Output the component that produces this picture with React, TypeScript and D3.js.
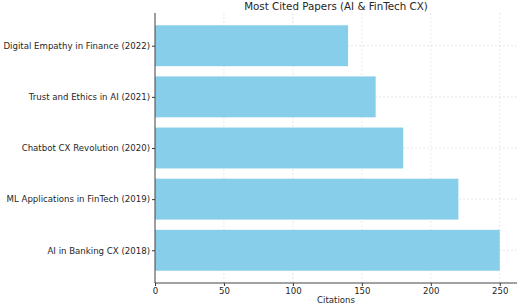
import React, { useRef, useEffect } from 'react';
import * as d3 from 'd3';

const papers = [
  'AI in Banking CX (2018)',
  'ML Applications in FinTech (2019)',
  'Chatbot CX Revolution (2020)',
  'Trust and Ethics in AI (2021)',
  'Digital Empathy in Finance (2022)',
];
const citations = [250, 220, 180, 160, 140];
const xTicks = [0, 50, 100, 150, 200, 250];

const W = 520;
const H = 305;
const font = 'DejaVu Sans, sans-serif';

const App = () => {
  const svgRef = useRef<SVGSVGElement>(null);

  useEffect(() => {
    const svg = d3.select(svgRef.current);
    svg.selectAll('*').remove();

    const left = 155, right = 517, top = 13, bottom = 283;
    const x = d3.scaleLinear().domain([0, 262.5]).range([left, right]);
    const y = d3.scaleLinear().domain([-0.64, 4.64]).range([bottom, top]);
    const barH = y(0) - y(0.8);

    // grid
    const grid = svg.append('g');
    grid.selectAll('.vg')
      .data(xTicks)
      .join('line')
      .attr('x1', d => x(d)).attr('x2', d => x(d))
      .attr('y1', top).attr('y2', bottom)
      .attr('stroke', '#dcdcdc').attr('stroke-width', 0.7)
      .attr('stroke-dasharray', '2,2');
    grid.selectAll('.hg')
      .data(papers)
      .join('line')
      .attr('x1', left).attr('x2', right)
      .attr('y1', (d, i) => y(i)).attr('y2', (d, i) => y(i))
      .attr('stroke', '#dcdcdc').attr('stroke-width', 0.7)
      .attr('stroke-dasharray', '2,2');

    // bars
    svg.append('g')
      .selectAll('rect')
      .data(citations)
      .join('rect')
      .attr('x', x(0))
      .attr('y', (d, i) => y(i + 0.4))
      .attr('width', d => x(d) - x(0))
      .attr('height', barH)
      .attr('fill', '#87ceeb');

    // axes
    const xAxis = d3.axisBottom(x).tickValues(xTicks).tickSize(3).tickPadding(2);
    const gx = svg.append('g')
      .attr('transform', `translate(0,${bottom})`)
      .call(xAxis);
    gx.select('.domain').remove();
    gx.selectAll('text').attr('font-family', font).attr('font-size', 8.6).attr('fill', '#262626');
    gx.selectAll('line').attr('stroke', '#333');

    const yAxis = d3.axisLeft(y).tickValues(d3.range(papers.length))
      .tickFormat((d: any) => papers[d]).tickSize(3).tickPadding(2);
    const gy = svg.append('g')
      .attr('transform', `translate(${left},0)`)
      .call(yAxis);
    gy.select('.domain').remove();
    gy.selectAll('text').attr('font-family', font).attr('font-size', 8.6).attr('fill', '#262626');
    gy.selectAll('line').attr('stroke', '#333');

    // spines
    svg.append('line')
      .attr('x1', left).attr('x2', left).attr('y1', top).attr('y2', bottom)
      .attr('stroke', '#444').attr('stroke-width', 1);
    svg.append('line')
      .attr('x1', left).attr('x2', right).attr('y1', bottom).attr('y2', bottom)
      .attr('stroke', '#444').attr('stroke-width', 1);

    svg.append('text')
      .attr('x', (left + right) / 2).attr('y', 303)
      .attr('text-anchor', 'middle')
      .attr('font-family', font).attr('font-size', 8.6).attr('fill', '#262626')
      .text('Citations');

    svg.append('text')
      .attr('x', (left + right) / 2).attr('y', 10)
      .attr('text-anchor', 'middle')
      .attr('font-family', font).attr('font-size', 10.3).attr('fill', '#262626')
      .text('Most Cited Papers (AI & FinTech CX)');
  }, []);

  return (
    <svg ref={svgRef} width={W} height={H}
      style={{ position: 'absolute', left: 0, top: 0, background: '#fff' }} />
  );
};

export default App;
